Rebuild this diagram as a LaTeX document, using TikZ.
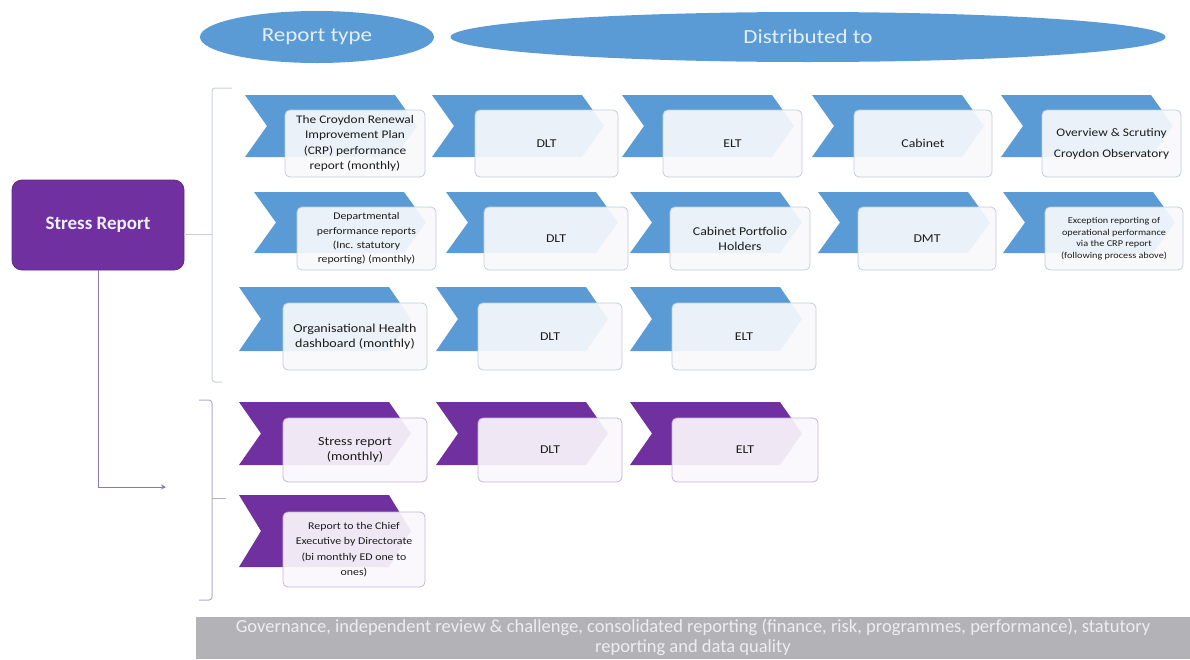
\documentclass[tikz,border=0pt]{standalone}
\usepackage{fontspec}
\setmainfont{Carlito}
\newfontfamily\widefont{Carlito}[FakeStretch=1.15]
\usetikzlibrary{shapes.geometric,arrows.meta}
\definecolor{cblue}{HTML}{5B9BD5}
\definecolor{cpurple}{HTML}{7030A0}
\definecolor{ltext}{HTML}{E4EEF8}
\definecolor{btxt}{HTML}{1C1C1C}
\definecolor{bborder}{HTML}{C3CDD9}
\definecolor{pborder}{HTML}{C4B6D6}
\definecolor{bfill}{HTML}{F8F9FB}
\definecolor{pfill}{HTML}{FAF7FC}
\definecolor{bracketb}{HTML}{C6D0DC}
\definecolor{bracketp}{HTML}{B4ABC8}
\definecolor{arrowc}{HTML}{8A7AAE}
\definecolor{govgray}{HTML}{B3B3B7}
\definecolor{govtext}{HTML}{EEEEF1}

% font size and leading for box texts
\newcommand\fs[2]{\widefont\fontsize{#1}{#2}\selectfont}
% chevron: left x, top y, height
\newcommand\chev[3]{%
  \fill[chevfill] (#1,#2) -- ({#1+150},#2) -- ({#1+172},{#2+#3/2})
    -- ({#1+150},{#2+#3}) -- (#1,{#2+#3}) -- ({#1+22},{#2+#3/2}) -- cycle;}
% rounded text box: [options] left, top, right, bottom, text
\newcommand\tbox[6][]{%
  \node[textbox, #1, minimum width={(#4-#2)*1pt}, minimum height={(#5-#3)*1pt}]
        (box#2x#3) at ({(#2+#4)/2},{(#3+#5)/2}) {#6};}

\begin{document}
\begin{tikzpicture}[x=1pt,y=-1pt,
  chevfill/.style={fill=cblue},
  textbox/.style={draw=bborder, line width=0.8pt, fill=bfill, fill opacity=0.92,
    text opacity=1, rounded corners=5pt, inner sep=1pt, align=center,
    text=btxt, font=\fs{12}{15}},
  headell/.style={ellipse, fill=cblue, text=ltext, inner sep=0pt,
    font=\widefont\fontsize{20}{24}\selectfont},
  bracket/.style={draw=bracketb, line width=1pt, rounded corners=3pt},
]
\useasboundingbox (0,0) rectangle (1190,659);

% column headings
\node[headell, minimum width=234pt, minimum height=52pt] (rtype) at (317,37) {Report type};
\node[headell, minimum width=715pt, minimum height=50pt] (distto) at (808,37) {Distributed to};

% ---- blue rows ----
\chev{245}{95}{62}
\chev{432}{95}{62}
\chev{622}{95}{62}
\chev{812}{95}{62}
\chev{1001}{95}{62}
\tbox[font=\fs{11.6}{15.5}]{285}{110}{425}{177}{The Croydon Renewal\\Improvement Plan\\(CRP) performance\\report (monthly)}
\tbox{475}{110}{618}{177}{DLT}
\tbox{663}{110}{802}{177}{ELT}
\tbox{854}{110}{992}{177}{Cabinet}
\tbox[font=\fs{11.6}{21}]{1042}{110}{1181}{177}{Overview \& Scrutiny\\Croydon Observatory}

\chev{254}{192}{61}
\chev{446}{192}{61}
\chev{630}{192}{61}
\chev{818}{192}{61}
\chev{1003}{192}{61}
\tbox[font=\fs{10.2}{14.3}]{297}{207}{436}{270}{Departmental\\performance reports\\(Inc. statutory\\reporting) (monthly)}
\tbox{484}{207}{628}{270}{DLT}
\tbox{670}{207}{810}{270}{Cabinet Portfolio\\Holders}
\tbox{858}{207}{996}{270}{DMT}
\tbox[font=\fs{8.9}{11.6}]{1045}{207}{1183}{270}{Exception reporting of\\operational performance\\via the CRP report\\(following process above)}

\chev{239}{287}{64}
\chev{436}{287}{64}
\chev{630}{287}{64}
\tbox[font=\fs{12.2}{14.8}]{283}{303}{427}{370}{Organisational Health\\dashboard (monthly)}
\tbox{478}{303}{622}{370}{DLT}
\tbox{672}{303}{816}{370}{ELT}

% ---- purple rows ----
\begin{scope}[chevfill/.style={fill=cpurple},
  textbox/.append style={draw=pborder, fill=pfill}]
\chev{239}{402}{63}
\chev{436}{402}{63}
\chev{630}{402}{63}
\tbox[font=\fs{12.3}{15}]{283}{418}{427}{482}{Stress report\\(monthly)}
\tbox{478}{418}{622}{482}{DLT}
\tbox{672}{418}{818}{482}{ELT}

\chev{239}{495}{72}
\tbox[font=\fs{10.3}{15.5}]{283}{512}{425}{587}{Report to the Chief\\Executive by Directorate\\(bi monthly ED one to\\ones)}
\end{scope}

% ---- stress report box and connectors ----
\node[fill=cpurple, draw=cpurple!85!black, line width=0.8pt, rounded corners=10pt,
  minimum width=172pt, minimum height=90pt, text=ltext!60!pfill,
  font=\bfseries\fontsize{19}{22}\selectfont] (stress) at (98,225) {Stress Report};

\coordinate (b1top) at (232,88);
\coordinate (b1mid) at (212,234);
\coordinate (b1bot) at (222,382);
\draw[bracket] (b1top) -- (212,88) -- (212,382) -- (b1bot);
\draw[bracket] (stress.east |- b1mid) -- (b1mid);

\coordinate (b2top) at (199,400);
\coordinate (b2mid) at (226,498);
\coordinate (b2bot) at (199,600);
\draw[bracket, draw=bracketp] (b2top) -- (212,400) -- (212,600) -- (b2bot);
\draw[bracket, draw=bracketp] (212,498) -- (b2mid);

\coordinate (arrowend) at (166,487);
\draw[draw=arrowc, line width=1pt, -{Stealth[length=5pt,width=5pt]}]
  (stress.south) -- (stress.south |- arrowend) -- (arrowend);

% ---- governance band ----
\fill[govgray] (196,617) rectangle (1190,659);
\node[inner sep=0pt, text=govtext, align=center, font=\fontsize{18.5}{20}\selectfont]
  (gov) at (693,637) {Governance, independent review \& challenge, consolidated reporting (finance, risk, programmes, performance), statutory\\reporting and data quality};
\end{tikzpicture}
\end{document}
